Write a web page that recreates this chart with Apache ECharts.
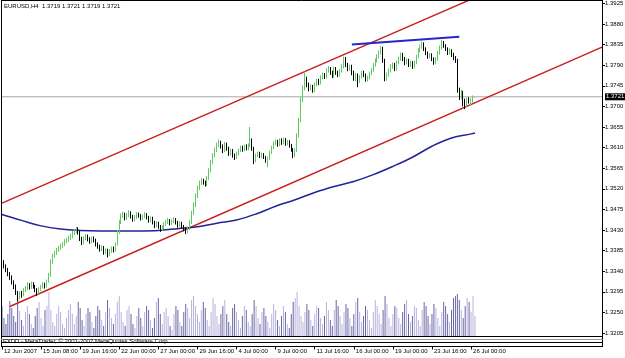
<!DOCTYPE html>
<html><head><meta charset="utf-8">
<script src="https://cdn.jsdelivr.net/npm/echarts@6/dist/echarts.min.js"></script>
<style>html,body{margin:0;padding:0;background:#fff}#c{width:625px;height:358px}</style>
</head><body><div id="c"></div>
<script>
const chartTitle = 'EURUSD,H4  1.3719 1.3721 1.3719 1.3721';
const footerText = 'FXDD - MetaTrader, \u00a9 2001-2007 MetaQuotes Software Corp.';
const timeLabels = ['12 Jun 2007','15 Jun 08:00','19 Jun 16:00','22 Jun 00:00','27 Jun 00:00','29 Jun 16:00','4 Jul 00:00','9 Jul 00:00','11 Jul 16:00','16 Jul 00:00','19 Jul 00:00','23 Jul 16:00','26 Jul 00:00'];
const labelStep = 20;      // bars between time labels
const slotCount = 308;     // bar slots across the plot (incl. chart shift)
const priceBase = 1.3205, priceStep = 0.0045;   // right-axis tick labels: 1.3205, 1.3250 ... 1.3925
const priceMin = 1.319845, priceMax = 1.393244;

const opens = [
1.3365,1.3360,1.3351,1.3342,1.3334,1.3327,1.3316,1.3307,1.3294,1.3283,
1.3292,1.3288,1.3299,1.3303,1.3310,1.3305,1.3312,1.3307,1.3299,1.3292,
1.3301,1.3305,1.3312,1.3307,1.3318,1.3331,1.3360,1.3373,1.3379,1.3386,
1.3390,1.3395,1.3399,1.3405,1.3408,1.3412,1.3416,1.3423,1.3427,1.3432,
1.3425,1.3412,1.3403,1.3412,1.3416,1.3410,1.3405,1.3412,1.3408,1.3399,
1.3395,1.3388,1.3392,1.3382,1.3386,1.3377,1.3384,1.3390,1.3386,1.3399,
1.3425,1.3447,1.3460,1.3464,1.3456,1.3462,1.3467,1.3460,1.3453,1.3458,
1.3464,1.3462,1.3456,1.3460,1.3464,1.3458,1.3451,1.3456,1.3447,1.3440,
1.3445,1.3438,1.3432,1.3436,1.3443,1.3447,1.3451,1.3445,1.3449,1.3453,
1.3447,1.3440,1.3445,1.3438,1.3432,1.3427,1.3434,1.3447,1.3467,1.3484,
1.3504,1.3521,1.3532,1.3538,1.3534,1.3530,1.3543,1.3560,1.3578,1.3593,
1.3604,1.3615,1.3621,1.3613,1.3604,1.3617,1.3608,1.3597,1.3604,1.3593,
1.3589,1.3597,1.3604,1.3610,1.3606,1.3613,1.3608,1.3615,1.3626,1.3608,
1.3582,1.3593,1.3597,1.3591,1.3595,1.3589,1.3582,1.3586,1.3599,1.3610,
1.3619,1.3623,1.3617,1.3626,1.3621,1.3628,1.3619,1.3623,1.3615,1.3606,
1.3593,1.3604,1.3636,1.3669,1.3713,1.3739,1.3761,1.3748,1.3739,1.3743,
1.3735,1.3748,1.3756,1.3752,1.3763,1.3769,1.3765,1.3778,1.3782,1.3774,
1.3767,1.3782,1.3774,1.3769,1.3778,1.3787,1.3804,1.3791,1.3782,1.3787,
1.3774,1.3761,1.3769,1.3756,1.3765,1.3774,1.3769,1.3759,1.3763,1.3772,
1.3780,1.3791,1.3800,1.3809,1.3817,1.3826,1.3800,1.3761,1.3769,1.3778,
1.3787,1.3791,1.3782,1.3796,1.3804,1.3813,1.3804,1.3796,1.3800,1.3791,
1.3796,1.3787,1.3796,1.3809,1.3822,1.3830,1.3837,1.3826,1.3817,1.3809,
1.3813,1.3804,1.3796,1.3804,1.3817,1.3828,1.3839,1.3833,1.3826,1.3817,
1.3822,1.3813,1.3806,1.3800,1.3735,1.3721,1.3730,1.3713,1.3704,1.3715,
1.3711,1.3713,1.3719];
const closes = [
1.3360,1.3351,1.3342,1.3334,1.3327,1.3316,1.3307,1.3294,1.3283,1.3292,
1.3288,1.3299,1.3303,1.3310,1.3305,1.3312,1.3307,1.3299,1.3292,1.3301,
1.3305,1.3312,1.3307,1.3318,1.3331,1.3360,1.3373,1.3379,1.3386,1.3390,
1.3395,1.3399,1.3405,1.3408,1.3412,1.3416,1.3423,1.3427,1.3432,1.3425,
1.3412,1.3403,1.3412,1.3416,1.3410,1.3405,1.3412,1.3408,1.3399,1.3395,
1.3388,1.3392,1.3382,1.3386,1.3377,1.3384,1.3390,1.3386,1.3399,1.3425,
1.3447,1.3460,1.3464,1.3456,1.3462,1.3467,1.3460,1.3453,1.3458,1.3464,
1.3462,1.3456,1.3460,1.3464,1.3458,1.3451,1.3456,1.3447,1.3440,1.3445,
1.3438,1.3432,1.3436,1.3443,1.3447,1.3451,1.3445,1.3449,1.3453,1.3447,
1.3440,1.3445,1.3438,1.3432,1.3427,1.3434,1.3447,1.3467,1.3484,1.3504,
1.3521,1.3532,1.3538,1.3534,1.3530,1.3543,1.3560,1.3578,1.3593,1.3604,
1.3615,1.3621,1.3613,1.3604,1.3617,1.3608,1.3597,1.3604,1.3593,1.3589,
1.3597,1.3604,1.3610,1.3606,1.3613,1.3608,1.3615,1.3626,1.3608,1.3582,
1.3593,1.3597,1.3591,1.3595,1.3589,1.3582,1.3586,1.3599,1.3610,1.3619,
1.3623,1.3617,1.3626,1.3621,1.3628,1.3619,1.3623,1.3615,1.3606,1.3593,
1.3604,1.3636,1.3669,1.3713,1.3739,1.3761,1.3748,1.3739,1.3743,1.3735,
1.3748,1.3756,1.3752,1.3763,1.3769,1.3765,1.3778,1.3782,1.3774,1.3767,
1.3782,1.3774,1.3769,1.3778,1.3787,1.3804,1.3791,1.3782,1.3787,1.3774,
1.3761,1.3769,1.3756,1.3765,1.3774,1.3769,1.3759,1.3763,1.3772,1.3780,
1.3791,1.3800,1.3809,1.3817,1.3826,1.3800,1.3761,1.3769,1.3778,1.3787,
1.3791,1.3782,1.3796,1.3804,1.3813,1.3804,1.3796,1.3800,1.3791,1.3796,
1.3787,1.3796,1.3809,1.3822,1.3830,1.3837,1.3826,1.3817,1.3809,1.3813,
1.3804,1.3796,1.3804,1.3817,1.3828,1.3839,1.3833,1.3826,1.3817,1.3822,
1.3813,1.3806,1.3800,1.3735,1.3721,1.3730,1.3713,1.3704,1.3715,1.3711,
1.3713,1.3719,1.3721];
const highs = [
1.3370,1.3364,1.3355,1.3347,1.3338,1.3331,1.3320,1.3311,1.3297,1.3296,
1.3297,1.3303,1.3308,1.3316,1.3314,1.3317,1.3316,1.3310,1.3303,1.3305,
1.3310,1.3316,1.3315,1.3322,1.3336,1.3366,1.3378,1.3384,1.3391,1.3395,
1.3400,1.3404,1.3410,1.3413,1.3417,1.3421,1.3428,1.3432,1.3437,1.3436,
1.3429,1.3415,1.3416,1.3421,1.3420,1.3414,1.3416,1.3416,1.3411,1.3403,
1.3398,1.3396,1.3395,1.3390,1.3389,1.3388,1.3394,1.3394,1.3403,1.3430,
1.3452,1.3466,1.3470,1.3468,1.3467,1.3473,1.3471,1.3463,1.3462,1.3469,
1.3468,1.3465,1.3464,1.3469,1.3467,1.3461,1.3460,1.3459,1.3450,1.3449,
1.3448,1.3441,1.3440,1.3447,1.3452,1.3456,1.3454,1.3453,1.3458,1.3456,
1.3450,1.3449,1.3448,1.3441,1.3436,1.3438,1.3451,1.3472,1.3490,1.3510,
1.3527,1.3538,1.3544,1.3542,1.3538,1.3548,1.3565,1.3583,1.3598,1.3610,
1.3621,1.3628,1.3625,1.3617,1.3622,1.3621,1.3612,1.3608,1.3607,1.3597,
1.3601,1.3608,1.3614,1.3614,1.3617,1.3617,1.3619,1.3655,1.3630,1.3612,
1.3597,1.3601,1.3601,1.3599,1.3598,1.3592,1.3590,1.3603,1.3614,1.3624,
1.3628,1.3627,1.3630,1.3630,1.3632,1.3631,1.3627,1.3626,1.3618,1.3609,
1.3608,1.3641,1.3675,1.3720,1.3746,1.3776,1.3765,1.3752,1.3748,1.3747,
1.3752,1.3761,1.3760,1.3768,1.3774,1.3773,1.3783,1.3788,1.3786,1.3778,
1.3787,1.3786,1.3778,1.3782,1.3792,1.3809,1.3808,1.3795,1.3791,1.3791,
1.3778,1.3773,1.3772,1.3769,1.3778,1.3778,1.3772,1.3767,1.3776,1.3784,
1.3795,1.3805,1.3814,1.3822,1.3832,1.3830,1.3804,1.3774,1.3783,1.3792,
1.3796,1.3795,1.3800,1.3809,1.3818,1.3817,1.3808,1.3805,1.3804,1.3800,
1.3799,1.3800,1.3813,1.3827,1.3835,1.3842,1.3840,1.3829,1.3820,1.3817,
1.3816,1.3807,1.3808,1.3821,1.3833,1.3845,1.3843,1.3836,1.3829,1.3827,
1.3825,1.3817,1.3810,1.3804,1.3741,1.3736,1.3734,1.3717,1.3719,1.3720,
1.3718,1.3724,1.3721];
const lows = [
1.3355,1.3346,1.3338,1.3329,1.3321,1.3311,1.3301,1.3288,1.3274,1.3278,
1.3282,1.3285,1.3295,1.3299,1.3300,1.3301,1.3302,1.3294,1.3286,1.3289,
1.3297,1.3302,1.3302,1.3304,1.3315,1.3328,1.3356,1.3369,1.3375,1.3382,
1.3386,1.3391,1.3395,1.3401,1.3404,1.3408,1.3412,1.3419,1.3423,1.3420,
1.3406,1.3397,1.3399,1.3408,1.3405,1.3400,1.3401,1.3403,1.3394,1.3389,
1.3383,1.3384,1.3376,1.3378,1.3370,1.3373,1.3380,1.3381,1.3383,1.3396,
1.3421,1.3443,1.3456,1.3451,1.3452,1.3458,1.3455,1.3448,1.3449,1.3454,
1.3457,1.3451,1.3452,1.3456,1.3453,1.3446,1.3447,1.3442,1.3434,1.3436,
1.3433,1.3426,1.3428,1.3432,1.3439,1.3443,1.3440,1.3441,1.3445,1.3442,
1.3435,1.3436,1.3433,1.3427,1.3421,1.3423,1.3430,1.3443,1.3463,1.3480,
1.3500,1.3517,1.3528,1.3529,1.3525,1.3526,1.3539,1.3556,1.3574,1.3589,
1.3600,1.3611,1.3608,1.3598,1.3600,1.3603,1.3592,1.3593,1.3588,1.3583,
1.3585,1.3593,1.3600,1.3601,1.3602,1.3604,1.3604,1.3611,1.3603,1.3574,
1.3578,1.3589,1.3587,1.3587,1.3585,1.3577,1.3567,1.3583,1.3596,1.3606,
1.3615,1.3612,1.3613,1.3616,1.3617,1.3614,1.3615,1.3610,1.3601,1.3587,
1.3589,1.3600,1.3632,1.3665,1.3709,1.3735,1.3742,1.3733,1.3735,1.3730,
1.3731,1.3744,1.3747,1.3748,1.3759,1.3760,1.3761,1.3774,1.3769,1.3762,
1.3763,1.3769,1.3764,1.3765,1.3774,1.3783,1.3786,1.3777,1.3778,1.3768,
1.3756,1.3755,1.3742,1.3751,1.3761,1.3764,1.3754,1.3754,1.3759,1.3768,
1.3776,1.3787,1.3796,1.3805,1.3813,1.3795,1.3755,1.3756,1.3765,1.3774,
1.3782,1.3777,1.3778,1.3792,1.3800,1.3799,1.3790,1.3792,1.3786,1.3787,
1.3782,1.3783,1.3792,1.3805,1.3818,1.3826,1.3821,1.3812,1.3804,1.3805,
1.3799,1.3791,1.3792,1.3800,1.3813,1.3824,1.3828,1.3821,1.3812,1.3813,
1.3808,1.3801,1.3795,1.3730,1.3714,1.3716,1.3700,1.3694,1.3699,1.3706,
1.3703,1.3708,1.3719];
const volumes = [
30,18,12,22,35,28,20,14,38,25,16,10,24,30,22,12,8,20,28,34,18,10,26,30,
44,26,14,10,22,30,24,12,8,18,26,32,22,12,20,34,28,16,10,22,28,24,14,8,
20,30,26,16,10,24,36,28,18,12,22,34,40,24,14,10,26,30,22,12,8,20,28,18,
10,24,30,26,16,8,18,34,38,22,12,24,28,20,10,6,22,30,26,14,10,24,32,28,
18,36,40,30,22,14,26,34,28,16,10,24,38,32,20,12,22,30,36,22,14,10,28,32,
24,16,8,20,30,26,14,10,22,36,30,18,12,24,28,20,14,8,22,32,26,16,10,20,
30,24,12,8,22,34,38,44,30,20,14,24,32,26,16,10,22,30,28,18,12,20,34,26,
16,10,26,36,30,20,12,24,32,28,18,10,22,34,38,24,14,20,30,26,16,8,24,36,
30,22,12,26,40,32,18,10,22,30,28,18,12,24,32,36,22,14,20,30,28,16,10,26,
34,30,20,12,22,32,28,18,10,24,34,30,22,14,26,38,40,42,36,26,18,30,38,34,
24,40,20];
// moving average (bar index, price)
const maBars = [0,10,20,30,40,50,60,70,80,90,100,110,120,130,140,150,160,170,180,190,200,210,220,230,240,242];
const maVals = [1.3464,1.3451,1.3439,1.3432,1.3429,1.3428,1.3428,1.3428,1.3429,1.3433,1.3437,1.3445,1.3452,1.3465,1.3482,1.3496,1.3512,1.3525,1.3536,1.3551,1.3569,1.3589,1.3613,1.3631,1.3640,1.3642];
// trend lines: [bar index, price] end points
const channelUpper = [[0,1.34888],[300,1.40452]];
const channelLower = [[4,1.32629],[307,1.38295]];
const resistance = [[179,1.3835],[234,1.3852]];

const FONT = 'Liberation Sans, Arial, sans-serif';
const categories = Array.from({length: slotCount}, (_, i) => String(i));
const candleData = opens.map((o, i) => [o, closes[i], lows[i], highs[i]]);
const volData = volumes.map((v, i) => ({value: v, itemStyle: {color: closes[i] < opens[i] ? '#6a66a6' : '#b8b2de'}}));
const maData = maBars.map((b, i) => [b, maVals[i]]);
const lastPrice = closes[closes.length - 1];
const priceLine = [[0, lastPrice], [slotCount - 1, lastPrice]];
const isLabelIdx = (i) => i % labelStep === 0 && i / labelStep < timeLabels.length;
// label grid: bottom edge sits on priceBase, so its ticks count from 0
const plotH = 336;
const baseY = plotH * (priceMax - priceBase) / (priceMax - priceMin);
const labelMax = (priceMax - priceBase) / priceStep;

const chart = echarts.init(document.getElementById('c'), null, {renderer: 'canvas'});
chart.setOption({
  animation: false,
  backgroundColor: '#fff',
  grid: [
    {left: 2, top: 0, width: 600, height: plotH, outerBoundsMode: 'none', containLabel: false},
    {left: 2, top: 290, width: 600, height: 46, outerBoundsMode: 'none', containLabel: false},
    {left: 2, top: 341, width: 600, height: 5.5, outerBoundsMode: 'none', containLabel: false},
    {left: 2, top: 0, width: 600, height: baseY, outerBoundsMode: 'none', containLabel: false}
  ],
  xAxis: [
    {type: 'category', gridIndex: 0, data: categories, boundaryGap: false, show: false},
    {type: 'category', gridIndex: 1, data: categories, boundaryGap: false, show: false},
    {type: 'category', gridIndex: 2, data: categories, boundaryGap: false,
      axisLine: {show: true, lineStyle: {color: '#000', width: 1}},
      axisTick: {show: true, interval: (i) => isLabelIdx(i), length: 3, lineStyle: {color: '#000'}},
      axisLabel: {interval: (i) => isLabelIdx(i), formatter: (v, i) => timeLabels[i / labelStep] || '',
        align: 'left', padding: [0, 0, 0, 2], margin: 2, fontSize: 6, color: '#000', fontFamily: FONT},
      splitLine: {show: false}},
    {type: 'category', gridIndex: 3, data: categories, boundaryGap: false, show: false}
  ],
  yAxis: [
    {type: 'value', gridIndex: 0, min: priceMin, max: priceMax, show: false, splitLine: {show: false}},
    {type: 'value', gridIndex: 3, position: 'right', min: 0, max: labelMax, interval: 1,
      axisLine: {show: false},
      axisTick: {show: true, length: 3, lineStyle: {color: '#000'}},
      axisLabel: {show: true, margin: 3, fontSize: 6, color: '#000', fontFamily: FONT,
        showMinLabel: true, showMaxLabel: false, hideOverlap: false,
        formatter: (v) => (priceBase + Number(v) * priceStep).toFixed(4)},
      splitLine: {show: false}},
    {type: 'value', gridIndex: 1, min: 0, max: 46, show: false, splitLine: {show: false}},
    {type: 'value', gridIndex: 2, show: false, splitLine: {show: false}}
  ],
  series: [
    {type: 'bar', xAxisIndex: 1, yAxisIndex: 2, data: volData, barWidth: 1, z: 1, silent: true},
    {type: 'line', xAxisIndex: 0, yAxisIndex: 0, data: priceLine, symbol: 'none', z: 2, silent: true,
      lineStyle: {color: '#a8a8a8', width: 1},
      endLabel: {show: true, distance: 3, formatter: () => lastPrice.toFixed(4),
        color: '#fff', backgroundColor: '#000', padding: [1, 1, 0, 1], fontSize: 6, fontFamily: FONT}},
    {type: 'line', xAxisIndex: 0, yAxisIndex: 0, data: channelUpper, symbol: 'none', z: 3,
      lineStyle: {color: '#c81e1e', width: 1.4}, silent: true},
    {type: 'line', xAxisIndex: 0, yAxisIndex: 0, data: channelLower, symbol: 'none', z: 3,
      lineStyle: {color: '#c81e1e', width: 1.4}, silent: true},
    {type: 'line', xAxisIndex: 0, yAxisIndex: 0, data: maData, symbol: 'none', smooth: 0.4, z: 3,
      lineStyle: {color: '#22229a', width: 1.5}, silent: true},
    {type: 'line', xAxisIndex: 0, yAxisIndex: 0, data: resistance, symbol: 'none', z: 3,
      lineStyle: {color: '#2626cc', width: 2}, silent: true},
    {type: 'candlestick', xAxisIndex: 0, yAxisIndex: 0, data: candleData, barWidth: 1, z: 4,
      itemStyle: {color: '#5ccc5c', color0: '#000', borderColor: '#5ccc5c', borderColor0: '#000', borderWidth: 1}}
  ],
  graphic: [
    {type: 'line', shape: {x1: 1.5, y1: 0, x2: 1.5, y2: 347}, style: {stroke: '#000', lineWidth: 1}, z: 10},
    {type: 'line', shape: {x1: 1, y1: 0.5, x2: 602.5, y2: 0.5}, style: {stroke: '#000', lineWidth: 1}, z: 10},
    {type: 'line', shape: {x1: 602.5, y1: 0, x2: 602.5, y2: 347}, style: {stroke: '#000', lineWidth: 1}, z: 10},
    {type: 'line', shape: {x1: 1, y1: 336.5, x2: 602.5, y2: 336.5}, style: {stroke: '#000', lineWidth: 1}, z: 10},
    {type: 'line', shape: {x1: 1, y1: 339.5, x2: 602.5, y2: 339.5}, style: {stroke: '#9a9a9a', lineWidth: 1}, z: 10},
    {type: 'line', shape: {x1: 1, y1: 342.5, x2: 602.5, y2: 342.5}, style: {stroke: '#000', lineWidth: 1}, z: 10},
    {type: 'text', left: 4, top: 3, z: 11, style: {text: chartTitle, fill: '#000', font: '6px ' + FONT}},
    {type: 'text', left: 3, top: 338, z: 11, style: {text: footerText, fill: '#000', font: '6px ' + FONT}}
  ]
});
</script></body></html>
